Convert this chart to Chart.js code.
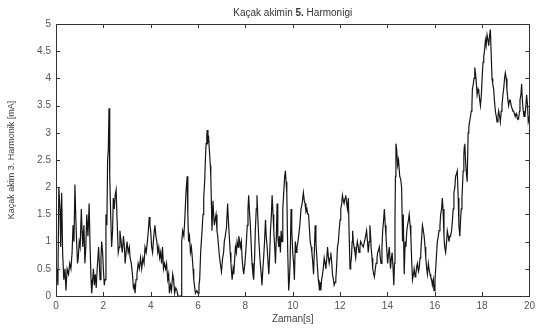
<!DOCTYPE html>
<html lang="tr">
<head>
<meta charset="UTF-8">
<title>Kaçak akimin 5. Harmonigi</title>
<script src="https://cdn.jsdelivr.net/npm/chart.js"></script>
<style>
  html, body { margin: 0; padding: 0; background: #fff; }
  #wrap { width: 539px; height: 330px; }
</style>
</head>
<body>
<div id="wrap"><canvas id="harmChart" width="539" height="330"></canvas></div>
<script>
// [zaman (s), akim (mA)] pairs
const seg0to5 = [
  [0.00,0.3],[0.04,0.5],[0.08,0.2],[0.12,2.0],[0.17,1.6],[0.20,0.9],[0.24,1.9],[0.28,0.8],[0.33,0.3],[0.38,0.5],
  [0.42,0.1],[0.47,0.5],[0.53,0.4],[0.58,0.6],[0.63,0.5],[0.68,0.8],[0.72,1.3],[0.76,1.0],[0.80,2.05],[0.84,1.4],
  [0.87,1.0],[0.91,0.6],[0.94,0.7],[0.98,1.0],[1.02,0.9],[1.07,1.6],[1.10,1.2],[1.13,0.9],[1.18,1.3],[1.22,0.6],
  [1.26,0.9],[1.30,1.5],[1.35,1.1],[1.40,1.7],[1.44,0.9],[1.48,0.3],[1.51,0.05],[1.55,0.3],[1.58,0.5],[1.62,0.2],
  [1.66,0.4],[1.70,0.15],[1.74,0.5],[1.80,0.9],[1.83,0.6],[1.86,0.3],[1.90,0.7],[1.93,1.0],[1.97,0.8],[2.00,0.5],
  [2.04,0.2],[2.07,0.3],[2.11,1.5],[2.15,1.3],[2.18,2.5],[2.21,2.7],[2.24,3.45],[2.27,2.2],[2.31,1.5],[2.35,0.9],
  [2.39,1.2],[2.42,1.8],[2.46,1.6],[2.50,1.85],[2.54,1.95],[2.58,1.4],[2.63,0.8],[2.67,0.9],[2.70,1.2],[2.75,1.0],
  [2.80,0.8],[2.85,1.1],[2.89,0.9],[2.92,0.6],[2.96,0.8],[3.00,1.0],[3.05,0.8],[3.10,0.9],[3.13,0.7],[3.18,0.6],
  [3.23,0.4],[3.27,0.15],[3.31,0.2],[3.34,0.05],[3.38,0.3],[3.42,0.4],[3.47,0.6],[3.52,0.5],[3.57,0.7],[3.62,0.5],
  [3.67,0.7],[3.72,0.6],[3.76,0.9],[3.81,0.8],[3.86,1.0],[3.90,1.2],[3.94,1.45],[3.97,1.3],[4.00,1.2],[4.04,0.9],
  [4.08,0.8],[4.13,1.1],[4.18,1.3],[4.22,1.1],[4.26,1.0],[4.30,0.8],[4.34,0.9],[4.38,0.7],[4.42,0.8],[4.46,0.6],
  [4.50,0.9],[4.54,0.5],[4.58,0.6],[4.63,0.5],[4.67,0.6],[4.72,0.3],[4.76,0.4],[4.79,0.05],[4.84,0.2],[4.88,0.1],
  [4.93,0.4],[4.97,0.3],[5.01,0.05],[5.06,0.15],[5.11,0.1],[5.15,0.0],[5.30,0.0]
];
const seg5to10 = [
  [5.31,1.0],[5.35,1.2],[5.40,1.1],[5.44,1.4],[5.49,1.9],[5.54,2.2],[5.57,1.5],[5.60,1.0],[5.64,1.1],[5.68,0.8],
  [5.72,0.9],[5.75,0.75],[5.79,0.5],[5.82,0.3],[5.86,0.15],[5.89,0.05],[5.95,0.1],[6.00,0.05],[6.04,0.2],[6.07,0.3],
  [6.11,0.8],[6.14,1.0],[6.17,1.2],[6.21,1.5],[6.24,1.8],[6.28,2.1],[6.31,2.5],[6.34,2.8],[6.37,2.95],[6.39,3.05],
  [6.42,2.85],[6.45,2.9],[6.49,2.6],[6.52,2.4],[6.54,2.2],[6.57,1.6],[6.59,1.2],[6.63,1.75],[6.66,1.5],[6.69,1.3],
  [6.72,1.4],[6.76,1.5],[6.80,1.2],[6.83,1.1],[6.87,0.9],[6.90,0.75],[6.94,0.6],[6.99,0.45],[7.04,0.7],[7.08,0.8],
  [7.11,1.0],[7.15,1.1],[7.20,1.25],[7.25,1.7],[7.28,1.4],[7.32,1.1],[7.36,0.8],[7.39,0.6],[7.44,0.3],[7.48,0.5],
  [7.51,0.4],[7.55,0.7],[7.58,0.9],[7.62,0.8],[7.65,1.0],[7.69,0.9],[7.72,1.1],[7.76,1.0],[7.79,0.9],[7.83,1.0],
  [7.86,0.7],[7.90,0.5],[7.93,0.4],[7.98,0.6],[8.03,0.9],[8.08,1.3],[8.11,1.6],[8.14,1.85],[8.18,1.5],[8.21,1.3],
  [8.25,0.9],[8.28,0.6],[8.32,0.4],[8.35,0.3],[8.39,0.7],[8.42,1.2],[8.46,1.6],[8.49,1.85],[8.53,1.4],[8.56,1.1],
  [8.60,0.8],[8.63,0.6],[8.67,0.4],[8.70,0.2],[8.74,0.5],[8.77,0.7],[8.81,1.0],[8.85,1.4],[8.88,1.1],[8.92,0.9],
  [8.96,0.6],[8.99,0.4],[9.03,0.8],[9.06,1.2],[9.10,1.5],[9.13,1.85],[9.17,1.5],[9.20,1.2],[9.24,0.9],[9.27,0.6],
  [9.31,1.1],[9.34,1.7],[9.37,1.1],[9.41,0.9],[9.44,1.1],[9.48,0.8],[9.51,1.2],[9.55,1.0],[9.58,1.6],[9.62,1.9],
  [9.66,2.2],[9.69,2.3],[9.72,2.1],[9.75,1.9],[9.79,0.8],[9.83,0.1],[9.86,0.3],[9.89,0.6],[9.93,1.6],[9.96,1.2]
];
const seg10to15 = [
  [10.00,0.8],[10.04,0.6],[10.07,0.3],[10.11,1.0],[10.15,0.8],[10.18,0.9],[10.22,1.0],[10.25,1.1],[10.30,1.3],[10.35,1.6],
  [10.40,1.7],[10.45,1.9],[10.49,1.75],[10.52,1.7],[10.56,1.55],[10.60,1.6],[10.64,1.5],[10.67,1.5],[10.71,1.2],[10.74,1.0],
  [10.78,0.9],[10.81,0.8],[10.85,0.6],[10.88,0.4],[10.92,0.9],[10.95,1.3],[10.98,1.0],[11.02,0.7],[11.05,0.5],[11.08,0.3],
  [11.11,0.2],[11.13,0.1],[11.16,0.25],[11.19,0.1],[11.22,0.3],[11.26,0.4],[11.29,0.5],[11.33,0.7],[11.37,0.6],[11.40,0.5],
  [11.44,0.7],[11.47,0.9],[11.51,0.7],[11.54,0.6],[11.58,0.7],[11.61,0.8],[11.65,0.6],[11.68,0.4],[11.72,0.3],[11.75,0.2],
  [11.79,0.25],[11.82,0.3],[11.86,0.6],[11.89,0.9],[11.93,1.0],[11.96,1.2],[12.00,1.4],[12.03,1.6],[12.07,1.7],[12.10,1.85],
  [12.14,1.75],[12.17,1.7],[12.21,1.8],[12.24,1.85],[12.28,1.7],[12.31,1.6],[12.35,1.8],[12.38,1.2],[12.42,0.5],[12.45,0.6],
  [12.48,0.7],[12.51,1.0],[12.53,1.2],[12.56,1.0],[12.59,0.9],[12.63,0.8],[12.66,0.7],[12.70,0.9],[12.73,1.0],[12.77,0.9],
  [12.80,0.8],[12.84,0.9],[12.87,1.0],[12.92,0.95],[12.98,0.9],[13.03,1.0],[13.08,1.1],[13.12,1.2],[13.16,1.0],[13.19,0.8],
  [13.23,1.0],[13.26,1.3],[13.29,1.1],[13.31,0.9],[13.35,0.7],[13.38,0.5],[13.42,0.4],[13.45,0.35],[13.49,0.5],[13.52,0.6],
  [13.56,0.7],[13.59,0.8],[13.63,0.85],[13.66,0.9],[13.70,0.7],[13.73,0.6],[13.77,0.9],[13.80,1.2],[13.84,1.4],[13.87,1.6],
  [13.91,1.3],[13.94,1.1],[13.98,0.8],[14.01,0.6],[14.05,0.8],[14.08,0.9],[14.13,0.5],[14.17,0.7],[14.20,0.8],[14.24,0.5],
  [14.27,0.2],[14.30,0.6],[14.32,1.4],[14.34,2.2],[14.36,2.8],[14.39,2.7],[14.43,2.4],[14.47,2.5],[14.52,2.2],[14.56,2.15],
  [14.60,2.0],[14.64,1.0],[14.67,1.5],[14.71,0.4],[14.75,1.0],[14.78,0.9],[14.82,1.2],[14.85,1.3],[14.89,1.4],[14.92,1.5],
  [14.96,1.3],[14.99,1.1]
];
const seg15to20 = [
  [15.03,0.6],[15.06,0.3],[15.10,0.4],[15.13,0.5],[15.17,0.35],[15.20,0.4],[15.24,0.55],[15.27,0.6],[15.31,0.45],[15.34,0.5],
  [15.38,0.7],[15.41,0.8],[15.45,1.1],[15.48,1.3],[15.52,1.2],[15.55,1.1],[15.59,0.9],[15.62,0.7],[15.66,0.5],[15.69,0.4],
  [15.73,0.6],[15.76,0.5],[15.80,0.4],[15.83,0.35],[15.87,0.3],[15.90,0.2],[15.94,0.3],[15.97,0.1],[16.01,0.3],[16.04,0.5],
  [16.08,0.8],[16.11,1.0],[16.15,1.1],[16.18,1.2],[16.22,1.3],[16.25,1.5],[16.29,1.6],[16.32,1.8],[16.35,1.6],[16.39,1.1],
  [16.42,0.9],[16.46,0.8],[16.50,1.0],[16.53,1.2],[16.57,1.1],[16.60,1.0],[16.64,1.1],[16.67,1.1],[16.71,1.2],[16.74,1.35],
  [16.78,1.6],[16.81,1.9],[16.85,2.0],[16.88,2.2],[16.92,2.25],[16.95,2.3],[16.99,1.8],[17.02,1.3],[17.06,1.1],[17.09,1.4],
  [17.12,1.6],[17.15,1.8],[17.17,2.0],[17.20,2.3],[17.23,2.6],[17.25,2.75],[17.27,2.8],[17.30,2.5],[17.33,2.3],[17.37,2.1],
  [17.41,3.0],[17.44,3.1],[17.47,3.2],[17.51,3.3],[17.54,3.4],[17.57,3.5],[17.59,3.8],[17.63,3.9],[17.66,4.0],[17.69,4.2],
  [17.72,4.1],[17.76,3.9],[17.79,3.7],[17.83,3.8],[17.86,3.75],[17.90,3.6],[17.93,3.5],[17.97,3.7],[18.00,4.0],[18.04,4.3],
  [18.07,4.4],[18.10,4.5],[18.14,4.7],[18.17,4.6],[18.21,4.8],[18.25,4.7],[18.28,4.6],[18.32,4.8],[18.35,4.9],[18.38,4.5],
  [18.42,4.0],[18.45,3.9],[18.49,3.8],[18.52,3.6],[18.56,3.4],[18.60,3.3],[18.63,3.2],[18.67,3.3],[18.70,3.4],[18.74,3.3],
  [18.77,3.2],[18.81,3.4],[18.84,3.5],[18.88,3.7],[18.91,3.8],[18.95,4.0],[18.98,4.1],[19.02,4.0],[19.05,3.8],[19.09,3.6],
  [19.12,3.5],[19.16,3.6],[19.19,3.6],[19.23,3.5],[19.26,3.5],[19.30,3.4],[19.33,3.4],[19.37,3.35],[19.40,3.3],[19.44,3.35],
  [19.47,3.3],[19.51,3.25],[19.54,3.25],[19.58,3.4],[19.60,3.6],[19.64,3.7],[19.67,3.9],[19.70,3.6],[19.74,3.4],[19.77,3.3],
  [19.81,3.3],[19.85,3.5],[19.88,3.7],[19.92,3.5],[19.95,3.2],[20.00,3.3]
];

const xTicks = [0, 2, 4, 6, 8, 10, 12, 14, 16, 18, 20];
const yTicks = [0, 0.5, 1, 1.5, 2, 2.5, 3, 3.5, 4, 4.5, 5];
const titleParts = [['Kaçak akimin ', '400'], ['5.', '700'], [' Harmonigi', '400']];

const points = [].concat(seg0to5, seg5to10, seg10to15, seg15to20).map(p => ({ x: p[0], y: p[1] }));

const FONT = "'Liberation Sans', Arial, sans-serif";

// matlab style box, inward ticks and the title with a bold "5."
const matlabFrame = {
  id: 'matlabFrame',
  afterDraw(chart) {
    const { ctx, chartArea: a, scales } = chart;
    ctx.save();
    ctx.strokeStyle = '#333';
    ctx.lineWidth = 1;
    ctx.strokeRect(Math.round(a.left) + 0.5, Math.round(a.top) + 0.5,
                   Math.round(a.right - a.left), Math.round(a.bottom - a.top));
    ctx.beginPath();
    xTicks.forEach(v => {
      const x = Math.round(scales.x.getPixelForValue(v)) + 0.5;
      ctx.moveTo(x, a.bottom); ctx.lineTo(x, a.bottom - 4);
      ctx.moveTo(x, a.top); ctx.lineTo(x, a.top + 4);
    });
    yTicks.forEach(v => {
      const y = Math.round(scales.y.getPixelForValue(v)) + 0.5;
      ctx.moveTo(a.left, y); ctx.lineTo(a.left + 4, y);
      ctx.moveTo(a.right, y); ctx.lineTo(a.right - 4, y);
    });
    ctx.stroke();

    ctx.fillStyle = '#333';
    ctx.textBaseline = 'alphabetic';
    let total = 0;
    titleParts.forEach(([t, w]) => { ctx.font = w + ' 10px ' + FONT; total += ctx.measureText(t).width; });
    let x = (a.left + a.right) / 2 - total / 2;
    titleParts.forEach(([t, w]) => {
      ctx.font = w + ' 10px ' + FONT;
      ctx.fillText(t, x, 16);
      x += ctx.measureText(t).width;
    });
    ctx.restore();
  }
};

new Chart(document.getElementById('harmChart'), {
  type: 'line',
  data: {
    datasets: [{
      data: points,
      borderColor: '#151515',
      borderWidth: 1.2,
      pointRadius: 0,
      tension: 0,
      fill: false
    }]
  },
  options: {
    responsive: false,
    animation: false,
    events: [],
    layout: { padding: { top: 24, right: 6, left: 0, bottom: 0 } },
    plugins: { legend: { display: false }, tooltip: { enabled: false }, title: { display: false } },
    scales: {
      x: {
        type: 'linear',
        min: 0, max: 20,
        afterBuildTicks: s => { s.ticks = xTicks.map(v => ({ value: v })); },
        afterFit: s => { s.height = 34; },
        grid: { display: false, drawTicks: false },
        border: { display: false },
        ticks: { padding: 4, color: '#555', font: { family: FONT, size: 10 }, maxRotation: 0 },
        title: { display: true, text: 'Zaman[s]', color: '#444', font: { family: FONT, size: 10 }, padding: { top: 0, bottom: 5 } }
      },
      y: {
        min: 0, max: 5,
        afterBuildTicks: s => { s.ticks = yTicks.map(v => ({ value: v })); },
        afterFit: s => { s.width = 56; },
        grid: { display: false, drawTicks: false },
        border: { display: false },
        ticks: { padding: 5, color: '#555', font: { family: FONT, size: 10 }, callback: v => String(v) },
        title: { display: true, text: 'Kaçak akim 3. Harmonik [mA]', color: '#444', font: { family: FONT, size: 9 }, padding: { top: 6, bottom: 0 } }
      }
    }
  },
  plugins: [matlabFrame]
});
</script>
</body>
</html>
